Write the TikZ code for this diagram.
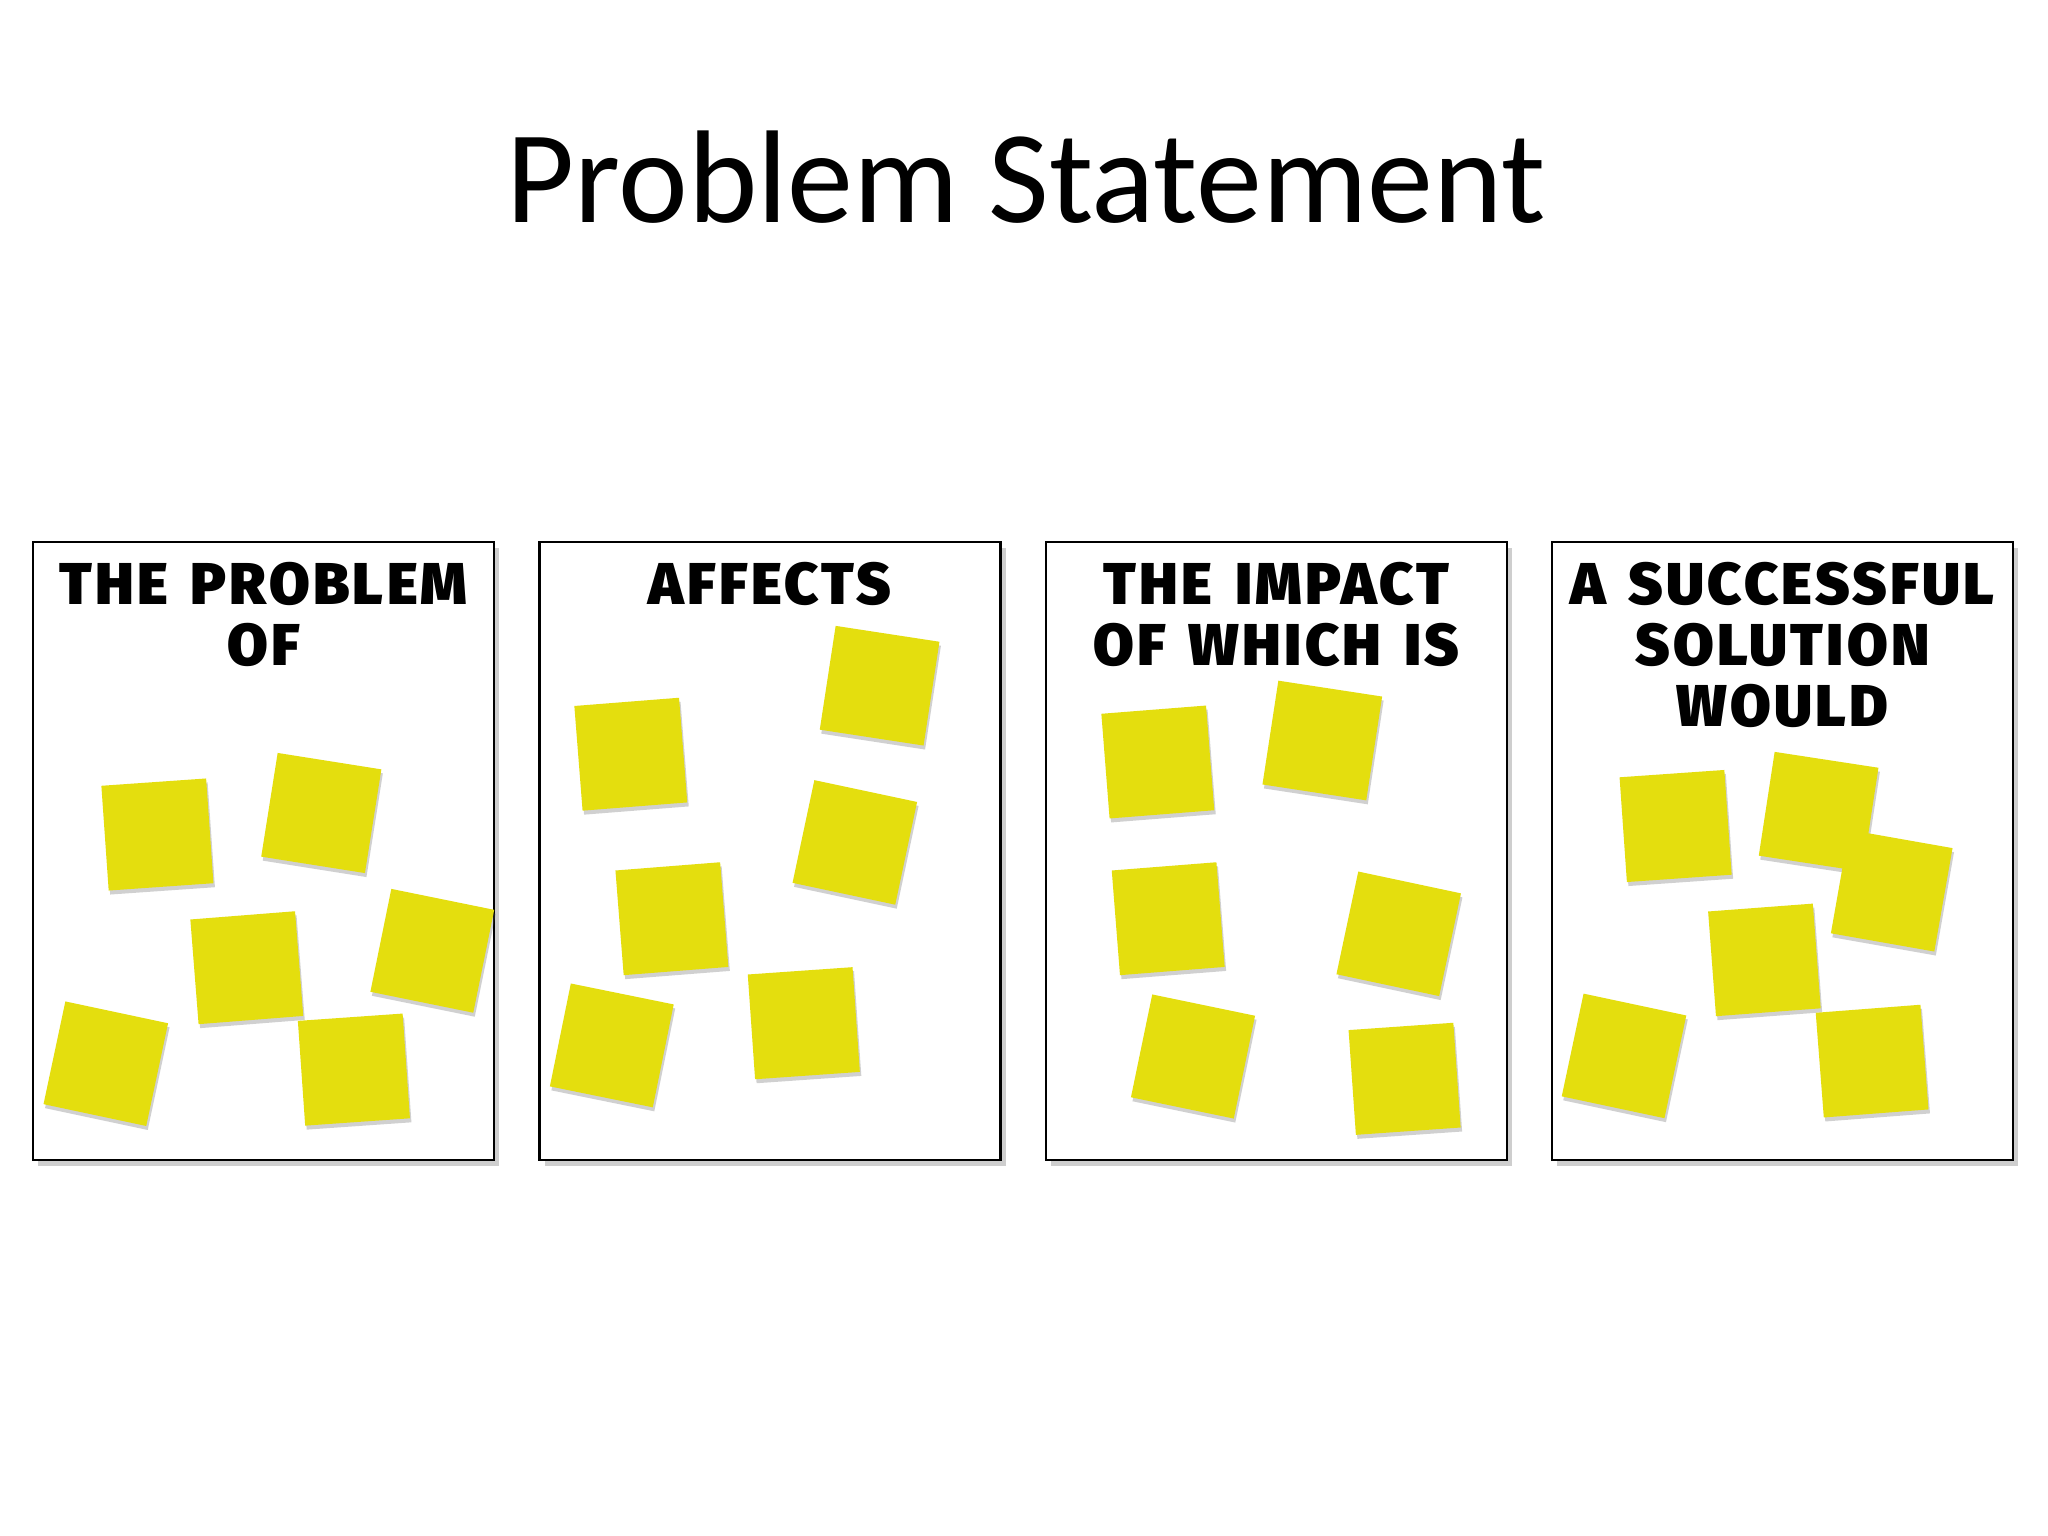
\documentclass[tikz,border=0pt]{standalone}
\usepackage{fontspec}
\setmainfont{Carlito}
\newfontfamily\chalkfont{Fira Sans}[UprightFont={* Black},LetterSpace=5.5,WordSpace=1.4]
\usepackage{tikz}
\usetikzlibrary{positioning,shadows}
\definecolor{postit}{RGB}{228,222,14}

\begin{document}
\begin{tikzpicture}[x=1pt,y=-1pt,
  board/.style={draw=black,line width=2.5pt,fill=white,minimum width=461pt,minimum height=618pt,inner sep=0pt,
    drop shadow={shadow xshift=5pt,shadow yshift=-6pt,opacity=.35,fill=black!55}},
  sticky/.style={fill=postit,minimum size=105pt,inner sep=0pt,
    drop shadow={shadow xshift=1.5pt,shadow yshift=-4pt,opacity=.3,fill=black!60}},
  heading/.style={font=\chalkfont\fontsize{59}{61}\selectfont,align=center,inner sep=0pt}]
\useasboundingbox[fill=white] (0,0) rectangle (2048,1536);

\node[font=\fontsize{132}{150}\selectfont,anchor=base] (title) at (1026,222) {Problem Statement};

% the four boards
\foreach \i/\x in {1/263.5,2/770,3/1276.5,4/1782.5}
  \node[board] (board\i) at (\x,851) {};

\node[heading,below=21pt of board1.north] (head1) {THE PROBLEM\\OF};
\node[heading,below=21pt of board2.north] (head2) {AFFECTS};
\node[heading,below=21pt of board3.north] (head3) {THE IMPACT\\OF WHICH IS};
\node[heading,below=21pt of board4.north] (head4) {A SUCCESSFUL\\SOLUTION\\WOULD};

% notes, board 1
\node[sticky,rotate=4]     (n1a) at (157.4,834.5) {};
\node[sticky,rotate=-9]    (n1b) at (321.3,813.0) {};
\node[sticky,rotate=4.5]   (n1c) at (246.8,967.7) {};
\node[sticky,rotate=-11.5] (n1d) at (432.3,950.8) {};
\node[sticky,rotate=-12]   (n1e) at (105.8,1063.7) {};
\node[sticky,rotate=4]     (n1f) at (353.9,1069.6) {};

% notes, board 2
\node[sticky,rotate=-8.7]  (n2a) at (879.6,685.7) {};
\node[sticky,rotate=4.5]   (n2b) at (630.8,754.2) {};
\node[sticky,rotate=-12]   (n2c) at (854.8,842.4) {};
\node[sticky,rotate=4.5]   (n2d) at (671.9,918.7) {};
\node[sticky,rotate=-11.5] (n2e) at (611.8,1045.4) {};
\node[sticky,rotate=4]     (n2f) at (803.8,1023.2) {};

% notes, board 3
\node[sticky,rotate=4.5]   (n3a) at (1157.8,762.0) {};
\node[sticky,rotate=-8.7]  (n3b) at (1322.3,740.5) {};
\node[sticky,rotate=4.5]   (n3c) at (1168.2,918.7) {};
\node[sticky,rotate=-12]   (n3d) at (1398.7,933.8) {};
\node[sticky,rotate=-11.7] (n3e) at (1193.0,1056.5) {};
\node[sticky,rotate=4]     (n3f) at (1404.6,1078.8) {};

% notes, board 4
\node[sticky,rotate=4]     (n4a) at (1675.6,826.0) {};
\node[sticky,rotate=-8.7]  (n4b) at (1818.6,811.7) {};
\node[sticky,rotate=-10]   (n4c) at (1891.7,890.7) {};
\node[sticky,rotate=4.3]   (n4d) at (1764.4,959.9) {};
\node[sticky,rotate=-12]   (n4e) at (1624.0,1055.9) {};
\node[sticky,rotate=4.4]   (n4f) at (1872.1,1061.1) {};
\end{tikzpicture}
\end{document}
